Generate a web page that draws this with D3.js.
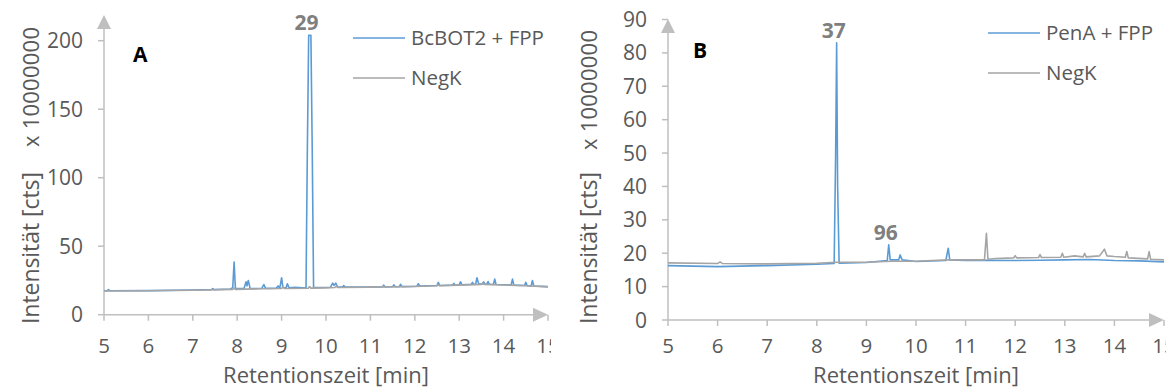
<!DOCTYPE html>
<html>
<head>
<meta charset="utf-8">
<script src="https://cdn.jsdelivr.net/npm/d3@7"></script>
<style>
  body { margin: 0; background: #fff; }
  svg { display: block; }
</style>
</head>
<body>
<svg id="chart" width="1166" height="389"></svg>
<script>
// ---- data (x = minutes, y = counts x 1e7) ----
var xTicks = [5, 6, 7, 8, 9, 10, 11, 12, 13, 14, 15]
var yTicksA = [0, 50, 100, 150, 200]
var yTicksB = [0, 10, 20, 30, 40, 50, 60, 70, 80, 90]

// panel A, BcBOT2 + FPP
var timeA1 = [5, 5.08, 5.1, 5.13, 6, 7, 7.42, 7.45, 7.48, 7.85, 7.9, 7.93, 7.96, 8.15, 8.2, 8.22, 8.25, 8.29,
    8.55, 8.6, 8.64, 8.88, 8.92, 8.96, 9.0, 9.03, 9.1, 9.13, 9.17, 9.3, 9.55, 9.58, 9.61, 9.66, 9.69, 9.72,
    10.1, 10.15, 10.18, 10.22, 10.26, 10.37, 10.4, 10.43, 11.27, 11.3, 11.33, 11.5, 11.53, 11.56, 11.65, 11.68, 11.71,
    12.05, 12.08, 12.11, 12.5, 12.53, 12.56, 12.85, 12.88, 12.91, 13.0, 13.03, 13.06, 13.27, 13.3, 13.33,
    13.37, 13.4, 13.44, 13.52, 13.55, 13.58, 13.62, 13.65, 13.68, 13.77, 13.8, 13.83, 14.17, 14.2, 14.23,
    14.47, 14.5, 14.53, 14.62, 14.65, 14.68, 15]
var valA1 = [17.5, 17.6, 18.3, 17.5, 17.6, 18.0, 18.3, 19.0, 18.3, 18.8, 19.8, 38.5, 19.0, 19.0, 24.0, 21.0, 25.0, 19.2,
    19.1, 22.0, 19.2, 19.3, 21.0, 19.4, 27.0, 19.8, 19.6, 22.5, 19.6, 20.0, 19.5, 120, 204, 204, 120, 19.8,
    20.0, 23.0, 21.5, 23.0, 20.3, 20.1, 21.3, 20.1, 20.3, 21.6, 20.3, 20.4, 21.8, 20.4, 20.5, 22.2, 20.5,
    20.8, 22.6, 20.9, 21.3, 23.6, 21.3, 21.6, 22.8, 21.6, 21.8, 24.0, 21.9, 22.1, 23.6, 22.1,
    22.2, 27.0, 22.3, 22.3, 24.0, 22.3, 22.2, 24.2, 22.2, 22.0, 26.0, 22.0, 21.7, 26.0, 21.6,
    21.3, 23.6, 21.2, 21.0, 25.0, 21.0, 20.5]

// panel A, NegK
var timeA2 = [5, 6, 7, 7.9, 7.93, 7.96, 8.5, 9.0, 9.03, 9.06, 9.6, 9.63, 9.66, 10.0, 10.2, 10.23, 10.26, 11, 12,
    12.5, 12.53, 12.56, 13, 13.5, 13.53, 13.56, 14, 14.5, 15]
var valA2 = [17.3, 17.5, 17.9, 18.5, 19.5, 18.5, 18.9, 19.1, 20.5, 19.1, 19.3, 20.5, 19.4, 19.6, 19.8, 21.0, 19.8, 20.1, 20.6,
    21.1, 22.0, 21.1, 21.6, 22.1, 23.0, 22.1, 21.7, 21.1, 20.3]

// panel B, PenA + FPP
var timeB1 = [5, 6, 7, 8, 8.35, 8.38, 8.4, 8.42, 8.45, 9.0, 9.42, 9.45, 9.48, 9.65, 9.68, 9.72, 10.0, 10.6, 10.65,
    10.68, 11.0, 11.4, 12.0, 12.5, 13.0, 13.5, 14.0, 14.5, 15]
var valB1 = [16.3, 16.0, 16.3, 16.7, 16.9, 50, 83, 40, 17.0, 17.2, 17.8, 22.5, 18.0, 18.0, 19.5, 18.0, 17.5, 17.8, 21.5,
    18.0, 17.8, 17.9, 17.8, 17.9, 18.0, 18.1, 17.8, 17.7, 17.4]

// panel B, NegK
var timeB2 = [5, 6, 6.05, 6.1, 7, 8, 8.4, 9.0, 9.5, 10.0, 10.65, 11.0, 11.38, 11.42, 11.45, 11.6, 11.97, 12.0, 12.03,
    12.47, 12.5, 12.53, 12.92, 12.95, 12.98, 13.2, 13.37, 13.4, 13.43, 13.7, 13.75, 13.8, 13.85, 14.0, 14.22,
    14.25, 14.28, 14.67, 14.7, 14.73, 15]
var valB2 = [17.1, 16.9, 17.4, 16.9, 16.8, 17.0, 17.3, 17.3, 17.6, 17.6, 18.0, 18.0, 18.0, 26.0, 18.2, 18.4, 18.6, 19.3, 18.6,
    18.7, 19.6, 18.7, 18.8, 20.0, 18.8, 19.2, 18.9, 20.0, 18.9, 19.2, 20.2, 21.2, 19.2, 19.0, 18.8,
    20.5, 18.6, 18.3, 20.5, 18.2, 18.0]

var seriesNamesA = ["BcBOT2 + FPP", "NegK"]
var seriesNamesB = ["PenA + FPP", "NegK"]

var blue = "#5B9BD5"
var gray = "#A5A5A5"
var axisCol = "#BFBFBF"
var textCol = "#595959"
var font = "'Open Sans', sans-serif"

function zip(t, v) {
    return t.map(function(d, i) { return { t: d, v: v[i] } })
}

var svg = d3.select("#chart")

svg.append("defs").append("clipPath").attr("id", "clipA")
    .append("rect").attr("x", 0).attr("y", 0).attr("width", 551).attr("height", 389)

function drawPanel(g, opt) {
    var x = d3.scaleLinear().domain([5, 15]).range(opt.xRange)
    var y = d3.scaleLinear().domain(opt.yDomain).range(opt.yRange)
    var x0 = x(5), y0 = y(0)

    // y axis with arrow
    g.append("line").attr("x1", x0).attr("x2", x0)
        .attr("y1", y0).attr("y2", opt.yArrowTip + 12)
        .style("stroke", axisCol).style("stroke-width", 1.5)
    g.append("path")
        .attr("d", "M" + x0 + "," + opt.yArrowTip + "L" + (x0 - 7) + "," + (opt.yArrowTip + 14) +
            "L" + (x0 + 7) + "," + (opt.yArrowTip + 14) + "Z")
        .style("fill", axisCol)
    g.selectAll(".ytick").data(opt.yTicks).enter().append("line")
        .attr("x1", x0 - 6).attr("x2", x0)
        .attr("y1", function(d) { return y(d) }).attr("y2", function(d) { return y(d) })
        .style("stroke", axisCol).style("stroke-width", 1.5)
    g.selectAll(".ylab").data(opt.yTicks).enter().append("text")
        .text(function(d) { return d })
        .attr("x", x0 - 21).attr("y", function(d) { return y(d) })
        .attr("dy", "0.36em")
        .style("text-anchor", "end").style("font-family", font)
        .style("font-size", "21px").style("fill", textCol)

    // x axis with arrow
    var xEnd = x(15)
    g.append("line").attr("x1", x0).attr("x2", xEnd - 12)
        .attr("y1", y0).attr("y2", y0)
        .style("stroke", axisCol).style("stroke-width", 1.5)
    g.append("path")
        .attr("d", "M" + xEnd + "," + y0 + "L" + (xEnd - 15) + "," + (y0 - 7) +
            "L" + (xEnd - 15) + "," + (y0 + 7) + "Z")
        .style("fill", axisCol)
    g.selectAll(".xtick").data(xTicks).enter().append("line")
        .attr("x1", function(d) { return x(d) }).attr("x2", function(d) { return x(d) })
        .attr("y1", y0).attr("y2", y0 + 6)
        .style("stroke", axisCol).style("stroke-width", 1.5)
    g.selectAll(".xlab").data(xTicks).enter().append("text")
        .text(function(d) { return d })
        .attr("x", function(d) { return x(d) }).attr("y", opt.xLabelY)
        .style("text-anchor", "middle").style("font-family", font)
        .style("font-size", "20.5px").style("fill", textCol)

    // axis titles
    g.append("text").text("Retentionszeit [min]")
        .attr("x", (x0 + xEnd) / 2).attr("y", 383)
        .style("text-anchor", "middle").style("font-family", font)
        .style("font-size", "22px").style("fill", textCol)
    g.append("text").text("Intensität [cts]")
        .attr("transform", "translate(" + (opt.titleX) + ",324) rotate(-90)")
        .attr("textLength", 152).attr("lengthAdjust", "spacing")
        .style("font-family", font).style("font-size", "23px").style("fill", textCol)
    g.append("text").text("x 10000000")
        .attr("transform", "translate(" + (opt.titleX) + "," + (opt.factorY + 120) + ") rotate(-90)")
        .attr("textLength", 120).attr("lengthAdjust", "spacing")
        .style("font-family", font).style("font-size", "22px").style("fill", textCol)

    // series
    var line = d3.line().x(function(d) { return x(d.t) }).y(function(d) { return y(d.v) })
    g.append("path").datum(opt.s1).attr("d", line)
        .style("fill", "none").style("stroke", blue).style("stroke-width", 1.6)
        .style("stroke-linejoin", "round")
    g.append("path").datum(opt.s2).attr("d", line)
        .style("fill", "none").style("stroke", gray).style("stroke-width", 1.6)
        .style("stroke-linejoin", "round")

    // peak labels
    opt.peaks.forEach(function(p) {
        g.append("text").text(p.label)
            .attr("x", x(p.t) - 3).attr("y", y(p.v) - 5)
            .style("text-anchor", "middle").style("font-family", font)
            .style("font-size", "21px").style("font-weight", "bold").style("fill", "#7F7F7F")
    })

    // panel letter
    g.append("text").text(opt.letter)
        .attr("x", opt.letterPos[0]).attr("y", opt.letterPos[1])
        .style("font-family", font).style("font-size", "21px")
        .style("font-weight", "bold").style("fill", "#000")

    // legend
    var leg = g.append("g").attr("transform", "translate(" + opt.legendPos[0] + "," + opt.legendPos[1] + ")")
    var items = leg.selectAll("g").data(opt.names).enter().append("g")
        .attr("transform", function(d, i) { return "translate(0," + (i * 40) + ")" })
    items.append("line").attr("x1", 0).attr("x2", 52).attr("y1", 0).attr("y2", 0)
        .style("stroke", function(d, i) { return i == 0 ? blue : gray })
        .style("stroke-width", 1.6)
    items.append("text").text(function(d) { return d })
        .attr("x", 58).attr("y", 0).attr("dy", "0.36em")
        .style("font-family", font).style("font-size", "20.5px").style("fill", textCol)
}

var gA = svg.append("g").attr("clip-path", "url(#clipA)")
drawPanel(gA, {
    xRange: [104, 548],
    yDomain: [0, 200],
    yRange: [314.7, 40.7],
    yTicks: yTicksA,
    yArrowTip: 15,
    xLabelY: 352.5,
    titleX: 39,
    factorY: 27,
    s1: zip(timeA1, valA1),
    s2: zip(timeA2, valA2),
    peaks: [{ label: "29", t: 9.63, v: 204 }],
    letter: "A",
    letterPos: [133, 62],
    legendPos: [353, 38],
    names: seriesNamesA
})

var gB = svg.append("g")
drawPanel(gB, {
    xRange: [668, 1164],
    yDomain: [0, 90],
    yRange: [320, 19.5],
    yTicks: yTicksB,
    yArrowTip: 19,
    xLabelY: 352.5,
    titleX: 597,
    factorY: 30,
    s1: zip(timeB1, valB1),
    s2: zip(timeB2, valB2),
    peaks: [{ label: "37", t: 8.4, v: 83 }, { label: "96", t: 9.45, v: 22.5 }],
    letter: "B",
    letterPos: [693, 58],
    legendPos: [988, 33],
    names: seriesNamesB
})
</script>
</body>
</html>
